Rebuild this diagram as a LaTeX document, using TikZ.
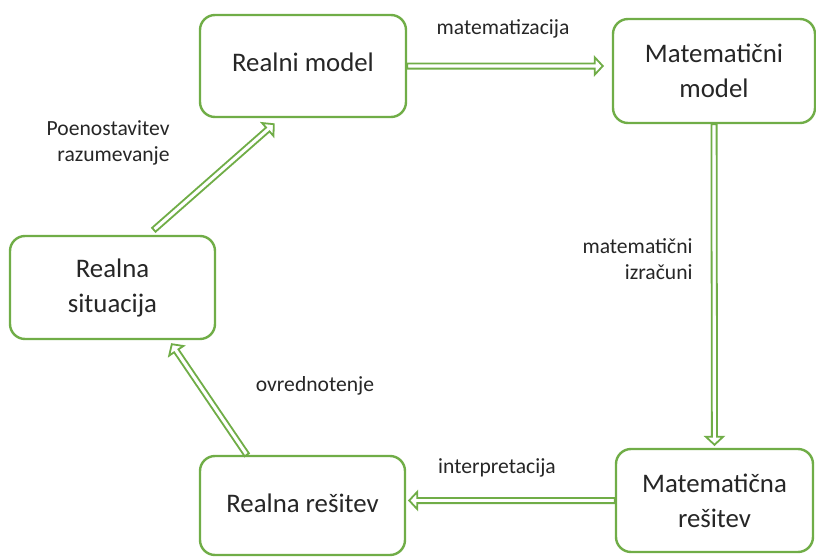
\documentclass[tikz,border=0pt]{standalone}
\usepackage{fontspec}
\setmainfont{Carlito}
\usetikzlibrary{calc}
\definecolor{boxgreen}{HTML}{70AD47}
\definecolor{txt}{HTML}{262626}
\begin{document}
\begin{tikzpicture}[x=0.5pt,y=-0.5pt,
  box/.style={draw=boxgreen, line width=1.2pt, rounded corners=7.5pt, fill=white,
    align=center, text=txt, font=\fontsize{13.4}{17.5}\selectfont, inner sep=0pt},
  lbl/.style={text=txt, font=\fontsize{10.8}{13}\selectfont, inner sep=0pt},
  hollow/.style={draw=boxgreen, line width=0.9pt, fill=white, line join=miter,
    to path={($(\tikztotarget)!4pt!(\tikztostart)$) coordinate (hb)
      ($(\tikztostart)!1.3pt!90:(\tikztotarget)$)
      -- ($(hb)!1.3pt!90:(\tikztotarget)$)
      -- ($(hb)!4.3pt!90:(\tikztotarget)$)
      -- (\tikztotarget)
      -- ($(hb)!4.3pt!-90:(\tikztotarget)$)
      -- ($(hb)!1.3pt!-90:(\tikztotarget)$)
      -- ($(\tikztostart)!1.3pt!-90:(\tikztotarget)$) -- cycle}}
]
\useasboundingbox (0,0) rectangle (816,557);
\node[box, minimum width=103pt, minimum height=51pt] (rm) at (303,66) {\raisebox{4pt}{Realni model}};
\node[box, minimum width=101pt, minimum height=52pt] (mm) at (714,71) {Matematični\\model};
\node[box, minimum width=102.5pt, minimum height=51.5pt] (rs) at (112.5,287.5) {Realna\\situacija};
\node[box, minimum width=102.5pt, minimum height=49.5pt] (rr) at (302.5,505.5) {\raisebox{2.5pt}{Realna rešitev}};
\node[box, minimum width=98.5pt, minimum height=51.5pt] (mr) at (714.5,500.5) {Matematična\\rešitev};

\node[lbl] (l1) at (503,29) {matematizacija};
\node[lbl, align=right, anchor=east] (l2) at (170,143) {Poenostavitev\\razumevanje};
\node[lbl, align=right, anchor=east] (l3) at (693,259) {matematični\\izračuni};
\node[lbl] (l4) at (315,386) {ovrednotenje};
\node[lbl] (l5) at (497,468) {interpretacija};

\path (mm.west |- rm.east) ++(-4.5pt,0) coordinate (e1);
\path (mr.north) ++(0,1.5pt) coordinate (e2);
\path (rr.east |- mr.west) ++(1.5pt,0) coordinate (e3);
\path ([xshift=81.5pt,yshift=-2pt]rs.south west) coordinate (e4);
\path ([xshift=37.5pt,yshift=-3pt]rm.south west) coordinate (e5);

\draw[hollow] (rm.east) to (e1);
\draw[hollow] (mm.south) to (e2);
\draw[hollow] (mr.west) to (e3);
\draw[hollow] ([xshift=24pt]rr.north west) to (e4);
\draw[hollow] ([xshift=72.5pt,yshift=2.5pt]rs.north west) to (e5);
\end{tikzpicture}
\end{document}
